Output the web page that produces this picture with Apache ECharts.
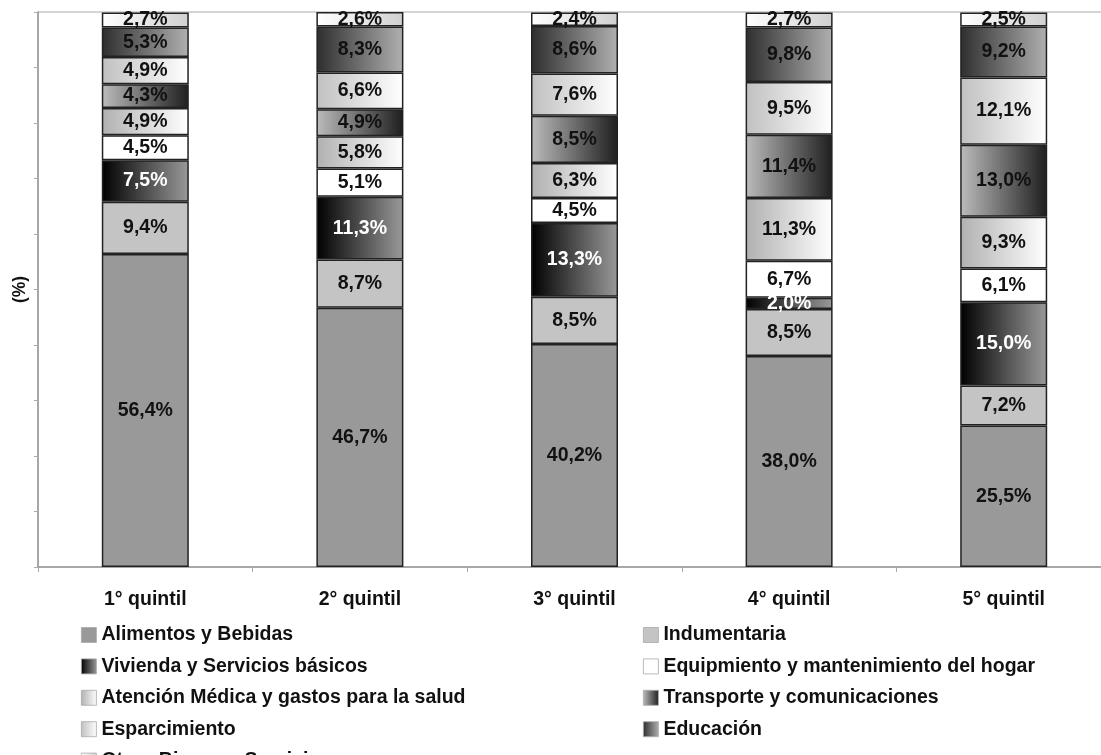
<!DOCTYPE html>
<html>
<head>
<meta charset="utf-8">
<script src="https://cdn.jsdelivr.net/npm/echarts@6/dist/echarts.min.js"></script>
<style>
  html, body { margin: 0; padding: 0; background: #fff; }
  #chart { width: 1101px; height: 755px; }
</style>
</head>
<body>
<div id="chart"></div>
<script>
// categorias (quintiles)
var quintiles = ['1° quintil', '2° quintil', '3° quintil', '4° quintil', '5° quintil'];

// nombres de rubros, de abajo hacia arriba en la pila
var rubros = [
  'Alimentos y Bebidas',
  'Indumentaria',
  'Vivienda y Servicios básicos',
  'Equipmiento y mantenimiento del hogar',
  'Atención Médica y gastos para la salud',
  'Transporte y comunicaciones',
  'Esparcimiento',
  'Educación',
  'Otros Bienes y Servicios'
];

// valores (%) por rubro, uno por quintil
var alimentos     = [56.4, 46.7, 40.2, 38.0, 25.5];
var indumentaria  = [9.4, 8.7, 8.5, 8.5, 7.2];
var vivienda      = [7.5, 11.3, 13.3, 2.0, 15.0];
var equipamiento  = [4.5, 5.1, 4.5, 6.7, 6.1];
var atencion      = [4.9, 5.8, 6.3, 11.3, 9.3];
var transporte    = [4.3, 4.9, 8.5, 11.4, 13.0];
var esparcimiento = [4.9, 6.6, 7.6, 9.5, 12.1];
var educacion     = [5.3, 8.3, 8.6, 9.8, 9.2];
var otros         = [2.7, 2.6, 2.4, 2.7, 2.5];

var valores = [alimentos, indumentaria, vivienda, equipamiento, atencion,
               transporte, esparcimiento, educacion, otros];

var FONT = "'Liberation Sans', Arial, sans-serif";

function grad(c1, c2) {
  return {
    type: 'linear', x: 0, y: 0, x2: 1, y2: 0,
    colorStops: [{offset: 0, color: c1}, {offset: 1, color: c2}]
  };
}

// rellenos (escala de grises como el original)
var rellenos = [
  '#999999',
  '#c4c4c4',
  grad('#000000', '#9a9a9a'),
  '#ffffff',
  grad('#b0b0b0', '#ffffff'),
  grad('#bcbcbc', '#1e1e1e'),
  grad('#c0c0c0', '#ffffff'),
  grad('#2e2e2e', '#b0b0b0'),
  grad('#ffffff', '#d0d0d0')
];

var chart = echarts.init(document.getElementById('chart'));

var series = [];
for (var i = 0; i < rubros.length; i++) {
  series.push({
    name: rubros[i],
    type: 'bar',
    stack: 'total',
    barWidth: 87,
    data: valores[i],
    itemStyle: {
      color: rellenos[i],
      borderColor: '#222',
      borderWidth: 1.5
    },
    label: {
      show: true,
      position: 'inside',
      fontFamily: FONT,
      fontWeight: 'bold',
      fontSize: 19.5,
      color: i === 2 ? '#ffffff' : '#111111',
      formatter: function (p) {
        return p.value.toFixed(1).replace('.', ',') + '%';
      }
    }
  });
}

var legendBase = {
  orient: 'vertical',
  top: 625,
  height: 300,
  padding: 0,
  itemWidth: 15,
  itemHeight: 15,
  itemGap: 11.4,
  icon: 'rect',
  selectedMode: false,
  itemStyle: { borderColor: '#aaa', borderWidth: 0.8 },
  textStyle: {
    fontFamily: FONT,
    fontWeight: 'bold',
    fontSize: 19.5,
    lineHeight: 20,
    color: '#111'
  }
};

var option = {
  backgroundColor: '#ffffff',
  animation: false,
  grid: {
    left: 38,
    top: 12,
    width: 1073,
    height: 555,
    outerBoundsMode: 'none',
    containLabel: false,
    show: true,
    borderColor: '#aaaaaa',
    borderWidth: 1
  },
  legend: [
    Object.assign({}, legendBase, {
      left: 81,
      data: [rubros[0], rubros[2], rubros[4], rubros[6], rubros[8]]
    }),
    Object.assign({}, legendBase, {
      left: 643,
      data: [rubros[1], rubros[3], rubros[5], rubros[7]]
    })
  ],
  xAxis: {
    type: 'category',
    data: quintiles,
    axisLine: { show: true, lineStyle: { color: '#999', width: 1.5 } },
    axisTick: { show: true, length: 5, lineStyle: { color: '#aaa' } },
    axisLabel: {
      margin: 23,
      fontFamily: FONT,
      fontWeight: 'bold',
      fontSize: 19.5,
      color: '#111'
    }
  },
  yAxis: {
    type: 'value',
    min: 0,
    max: 100,
    interval: 10,
    name: '(%)',
    nameLocation: 'middle',
    nameRotate: 90,
    nameGap: 9,
    nameTextStyle: {
      fontFamily: FONT,
      fontWeight: 'bold',
      fontSize: 17.5,
      color: '#111'
    },
    axisLine: { show: true, lineStyle: { color: '#999', width: 1.5 } },
    axisTick: { show: true, length: 4, lineStyle: { color: '#aaa' } },
    axisLabel: { show: false },
    splitLine: { show: false }
  },
  series: series
};

chart.setOption(option);
</script>
</body>
</html>
